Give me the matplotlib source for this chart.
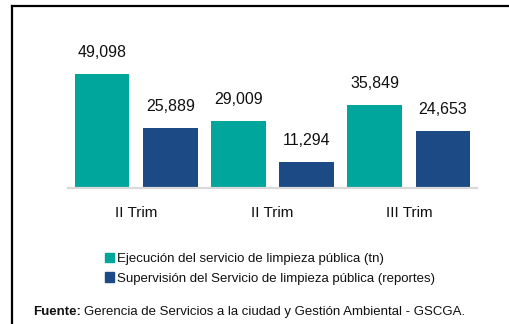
import matplotlib.pyplot as plt
from matplotlib.patches import Patch
from matplotlib.lines import Line2D
import numpy as np

plt.rcParams['font.family'] = ['Liberation Sans', 'DejaVu Sans']

# datos por trimestre
trimestres = ["II Trim", "II Trim", "III Trim"]
ejecucion = [49098, 29009, 35849]      # toneladas
supervision = [25889, 11294, 24653]    # reportes

series_nombres = [
    "Ejecución del servicio de limpieza pública (tn)",
    "Supervisión del Servicio de limpieza pública (reportes)",
]
fuente = "Gerencia de Servicios a la ciudad y Gestión Ambiental - GSCGA."

c_teal = "#00A59B"
c_navy = "#1B4A84"
c_txt = "#111111"

W, H = 510, 324
fig = plt.figure(figsize=(W / 100, H / 100), dpi=100)

# area de barras en pixeles
x0, x1 = 68, 477
y_base, ymax = 188, 55000
alto = ymax / 430
ax = fig.add_axes([x0 / W, (H - y_base) / H, (x1 - x0) / W, alto / H])

x = np.arange(len(trimestres))
ancho = 0.4
b1 = ax.bar(x - 0.25, ejecucion, ancho, color=c_teal)
b2 = ax.bar(x + 0.25, supervision, ancho, color=c_navy)

for barras in (b1, b2):
    for b in barras:
        ax.annotate(f"{int(b.get_height()):,}",
                    (b.get_x() + b.get_width() / 2, b.get_height()),
                    xytext=(0, 15), textcoords="offset points",
                    ha="center", va="center", fontsize=11.5, color=c_txt,
                    annotation_clip=False)

ax.set_xlim(-0.5, len(trimestres) - 0.5)
ax.set_ylim(0, ymax)
ax.set_xticks(x)
ax.set_xticklabels(trimestres, fontsize=11, color=c_txt)
ax.tick_params(axis="x", length=0, pad=13)
ax.set_yticks([])
for s in ("top", "right", "left"):
    ax.spines[s].set_visible(False)
ax.spines["bottom"].set_color("#D9D9D9")
ax.spines["bottom"].set_linewidth(1.6)

# leyenda
handles = [Patch(color=c_teal), Patch(color=c_navy)]
fig.legend(handles, series_nombres, loc="upper left",
           bbox_to_anchor=(105 / W, 1 - 253 / H), frameon=False,
           fontsize=9.5, handlelength=0.7, handleheight=0.7,
           handletextpad=0.2, labelspacing=0.55, borderpad=0,
           borderaxespad=0, labelcolor=c_txt)

# fuente: etiqueta en negrita seguida del texto normal
t_f = fig.text(33 / W, 1 - 312 / H, "Fuente:", fontsize=9.5, fontweight="bold",
               va="center", ha="left", color=c_txt)
fig.canvas.draw()
fin = t_f.get_window_extent().x1
fig.text((fin + 3) / W, 1 - 312 / H, fuente, fontsize=9.5,
         va="center", ha="left", color=c_txt)

# marco superior e izquierdo
fig.add_artist(Line2D([12.5 / W, 12.5 / W], [0, 1 - 5.5 / H],
                      transform=fig.transFigure, color="black", lw=1.6))
fig.add_artist(Line2D([12.5 / W, 1], [1 - 5.5 / H, 1 - 5.5 / H],
                      transform=fig.transFigure, color="black", lw=1.6))

fig.savefig("out.png", dpi=100)
